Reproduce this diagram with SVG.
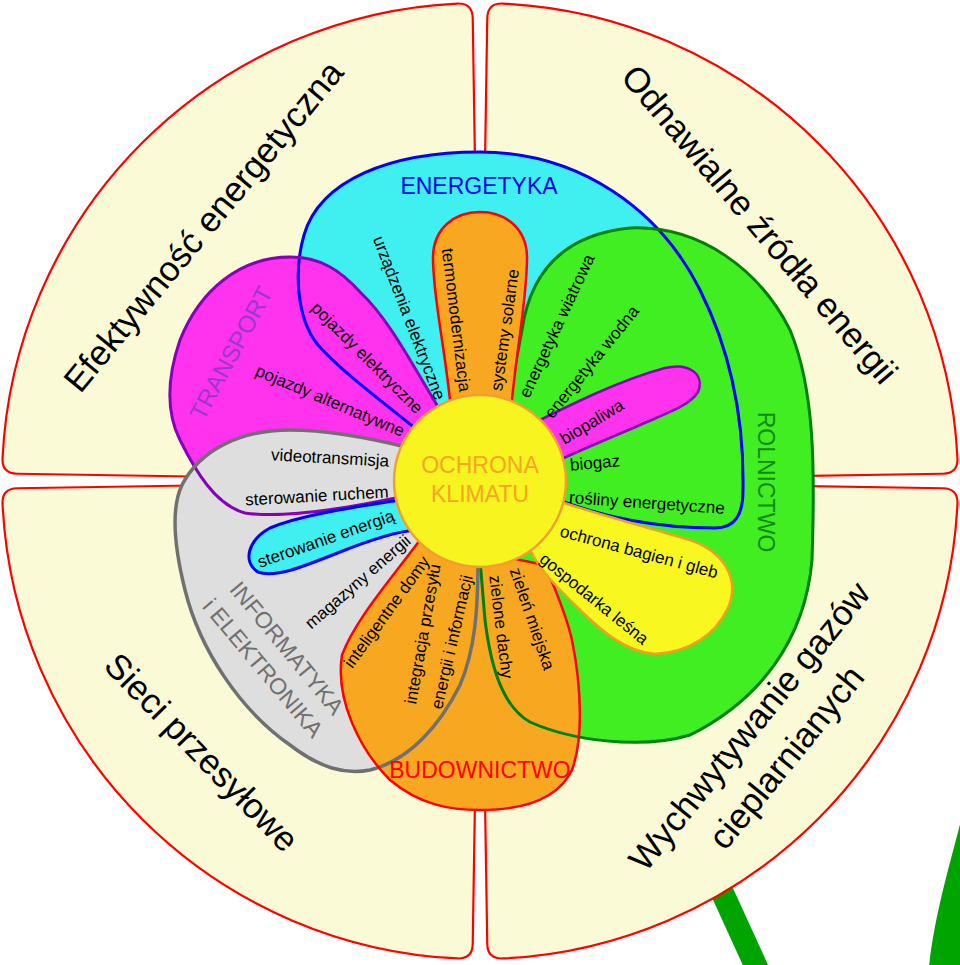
<svg xmlns="http://www.w3.org/2000/svg" width="960" height="965" viewBox="0 0 960 965">
<style>
.sector{fill:#fbfad6;stroke:#ff0000;stroke-width:2.2}
.outer{font-family:"Liberation Sans",Arial,sans-serif;font-size:35px;fill:#000;text-anchor:middle;dominant-baseline:central}
.lbl{font-family:"Liberation Sans",Arial,sans-serif;font-size:17px;fill:#000;text-anchor:middle;dominant-baseline:central}
.cat{font-family:"Liberation Sans",Arial,sans-serif;font-size:23px;text-anchor:middle;dominant-baseline:central}
</style>
<rect width="960" height="965" fill="#ffffff"/>
<g id="stem">
<line x1="707" y1="859" x2="760" y2="975" stroke="#00a400" stroke-width="23"/>
<path d="M963,812 C953,855 935,910 929,967 L963,967 Z" fill="#00a400"/>
</g>
<g id="sector-efektywnosc">
<path class="sector" d="M480,481 L17.06,473.73 Q2.06,473.49 2.53,458.48 A478,478 0 0 1 457.48,3.53 Q472.49,3.06 472.73,18.06 Z"/>
<text class="outer" transform="translate(203,226) rotate(-50.5)">Efektywność energetyczna</text>
</g>
<g id="sector-odnawialne">
<path class="sector" d="M480,481 L487.27,18.06 Q487.51,3.06 502.52,3.53 A478,478 0 0 1 957.47,458.48 Q957.94,473.49 942.94,473.73 Z"/>
<text class="outer" transform="translate(760,224) rotate(49.7)">Odnawialne źródła energii</text>
</g>
<g id="sector-wychwytywanie">
<path class="sector" d="M480,481 L942.94,488.27 Q957.94,488.51 957.47,503.52 A478,478 0 0 1 502.52,958.47 Q487.51,958.94 487.27,943.94 Z"/>
<text class="outer" transform="translate(749,726) rotate(-51)">Wychwytywanie gazów</text>
<text class="outer" transform="translate(786,757) rotate(-51)">cieplarnianych</text>
</g>
<g id="sector-sieci">
<path class="sector" d="M480,481 L472.73,943.94 Q472.49,958.94 457.48,958.47 A478,478 0 0 1 2.53,503.52 Q2.06,488.51 17.06,488.27 Z"/>
<text class="outer" transform="translate(202,752) rotate(45.8)">Sieci przesyłowe</text>
</g>
<g id="region-fills">
<path id="fill-energetyka" fill="#40f0f0" d="M420,432 C380,400 340,370 318,345 C296,318 294,270 304,235 C320,180 390,152 480,152 C580,152 660,210 700,290 C735,360 744,430 743,490 C743,515 735,528 715,528 C660,528 600,518 550,496 Z"/>
<path id="fill-rolnictwo" fill="#40ee22" d="M505,420 L522,330 C530,275 560,235 630,228 C700,225 760,270 790,330 C815,390 815,470 812,560 C805,640 760,700 690,735 C640,750 570,740 530,722 C500,705 490,660 485,620 L480,560 Z"/>
<path id="fill-transport" fill="#ff33ee" d="M440,410 C415,370 390,320 360,292 C340,270 320,257 290,257 C240,257 200,290 180,340 C168,375 165,410 180,440 C195,470 215,505 245,513 C280,518 340,510 405,496 Z"/>
<path id="fill-informatyka" fill="#dedede" d="M410,448 C370,438 330,430 290,430 C240,430 200,450 182,485 C170,510 175,550 185,590 C200,650 240,710 290,745 C320,768 345,775 370,770 C410,760 440,725 460,685 C475,650 478,610 478,560 Z"/>
<path id="fill-budownictwo" fill="#f8a820" d="M420,540 C390,580 355,620 342,655 C335,700 360,750 390,780 C420,805 450,810 480,810 C530,810 560,795 572,770 C583,740 582,690 572,640 C565,610 555,590 545,565 Z"/>
</g>
<g id="region-outlines" fill="none">
<path stroke="#0000ff" stroke-width="3" d="M420,432 C380,400 340,370 318,345 C296,318 294,270 304,235 C320,180 390,152 480,152 C580,152 660,210 700,290 C735,360 744,430 743,490 C743,515 735,528 715,528 C660,528 600,518 550,496 Z"/>
<path stroke="#008000" stroke-width="3" d="M505,420 L522,330 C530,275 560,235 630,228 C700,225 760,270 790,330 C815,390 815,470 812,560 C805,640 760,700 690,735 C640,750 570,740 530,722 C500,705 490,660 485,620 L480,560 Z"/>
<path stroke="#8800bb" stroke-width="3" d="M440,410 C415,370 390,320 360,292 C340,270 320,257 290,257 C240,257 200,290 180,340 C168,375 165,410 180,440 C195,470 215,505 245,513 C280,518 340,510 405,496 Z"/>
<path stroke="#707070" stroke-width="3.5" d="M410,448 C370,438 330,430 290,430 C240,430 200,450 182,485 C170,510 175,550 185,590 C200,650 240,710 290,745 C320,768 345,775 370,770 C410,760 440,725 460,685 C475,650 478,610 478,560 Z"/>
<path stroke="#ff0000" stroke-width="2.5" d="M420,540 C390,580 355,620 342,655 C335,700 360,750 390,780 C420,805 450,810 480,810 C530,810 560,795 572,770 C583,740 582,690 572,640 C565,610 555,590 545,565 Z"/>
</g>
<g id="petal-termo">
<path fill="#f8a820" stroke="#ff0000" stroke-width="2.5" d="M452,420 C446,350 433,300 433,258 C433,228 455,212 480,212 C505,212 527,228 527,258 C527,300 516,350 510,420 Z"/>
</g>
<g id="petal-biopaliwa">
<path fill="#ff33ee" stroke="#8800bb" stroke-width="2.5" d="M530,425 C570,405 620,380 665,368 C690,362 705,375 698,392 C690,405 670,412 640,425 C610,438 585,448 555,462 Z"/>
</g>
<g id="petal-sterowanie">
<path fill="#40f0f0" stroke="#0000ff" stroke-width="3" d="M400,500 C350,508 300,515 270,528 C248,540 242,562 258,572 C275,578 300,568 340,552 C370,540 395,532 415,530 Z"/>
</g>
<g id="petal-ochrona">
<path fill="#f8f820" stroke="#f0a020" stroke-width="2.5" d="M555,500 C600,515 650,528 690,540 C725,552 740,580 728,608 C715,635 690,652 655,654 C625,652 600,630 575,605 C555,585 540,570 530,550 Z"/>
</g>
<g id="center">
<circle cx="480" cy="481" r="86" fill="#f8f420" stroke="#f0a030" stroke-width="2.5"/>
<text class="cat" x="480" y="465" fill="#f5a623">OCHRONA</text>
<text class="cat" x="480" y="494" fill="#f5a623">KLIMATU</text>
</g>
<g id="category-labels">
<text class="cat" x="479" y="186" fill="#0000ee">ENERGETYKA</text>
<text class="cat" fill="#9a38c8" transform="translate(231,353) rotate(-61.6)" style="font-size:24px">TRANSPORT</text>
<text class="cat" fill="#108a10" transform="translate(766,482) rotate(90)">ROLNICTWO</text>
<text class="cat" fill="#707070" transform="translate(287,648) rotate(50.5)">INFORMATYKA</text>
<text class="cat" fill="#707070" transform="translate(263,668) rotate(50)">i ELEKTRONIKA</text>
<text class="cat" fill="#ff0000" x="480" y="770">BUDOWNICTWO</text>
</g>
<g id="item-labels">
<text class="lbl" transform="translate(409,318) rotate(69)">urządzenia elektryczne</text>
<text class="lbl" transform="translate(456,320) rotate(83)">termomodernizacja</text>
<text class="lbl" transform="translate(505,330) rotate(-82)">systemy solarne</text>
<text class="lbl" transform="translate(557,326) rotate(-65)">energetyka wiatrowa</text>
<text class="lbl" transform="translate(592,362) rotate(-51)">energetyka wodna</text>
<text class="lbl" transform="translate(592,422) rotate(-31)">biopaliwa</text>
<text class="lbl" transform="translate(595,463) rotate(-5)">biogaz</text>
<text class="lbl" transform="translate(647,503) rotate(4)">rośliny energetyczne</text>
<text class="lbl" transform="translate(639,552) rotate(15)">ochrona bagien i gleb</text>
<text class="lbl" transform="translate(594,599) rotate(39)">gospodarka leśna</text>
<text class="lbl" transform="translate(532,619) rotate(71)">zieleń miejska</text>
<text class="lbl" transform="translate(501,627) rotate(83)">zielone dachy</text>
<text class="lbl" transform="translate(423,634) rotate(-80)">integracja przesyłu</text>
<text class="lbl" transform="translate(452,642) rotate(-77)">energii i informacji</text>
<text class="lbl" transform="translate(387,612) rotate(-54)">inteligentne domy</text>
<text class="lbl" transform="translate(358,582) rotate(-41)">magazyny energii</text>
<text class="lbl" transform="translate(326,539) rotate(-19.3)">sterowanie energią</text>
<text class="lbl" transform="translate(317,496) rotate(-3.3)">sterowanie ruchem</text>
<text class="lbl" transform="translate(330,458) rotate(3.2)">videotransmisja</text>
<text class="lbl" transform="translate(330,401) rotate(22.8)">pojazdy alternatywne</text>
<text class="lbl" transform="translate(367,358) rotate(45)">pojazdy elektryczne</text>
</g>
</svg>
